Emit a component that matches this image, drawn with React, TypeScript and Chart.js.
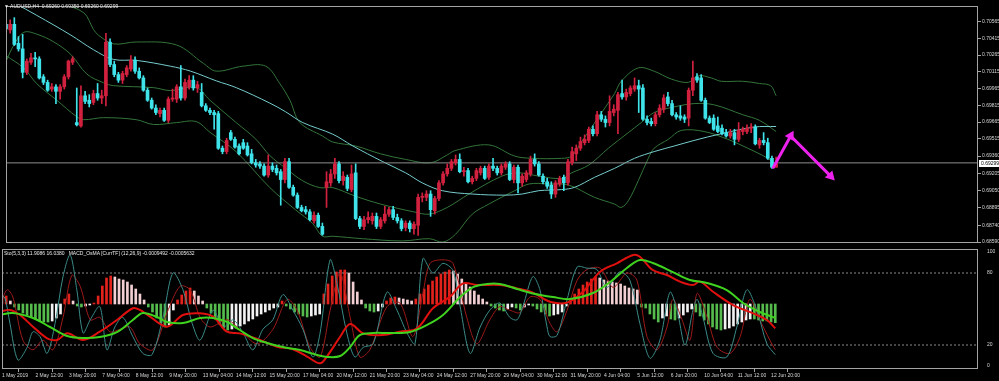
import React, { useEffect, useRef } from "react";
import { Chart, registerables } from "chart.js";
Chart.register(...registerables);

const FONT = "'Liberation Sans', Arial, sans-serif";
const X_MAX = 233.5;

const titleMain = "AUDUSD,H4  0.69260 0.69350 0.69260 0.69299";
const titleSub = "Sto(5,3,3) 11.9086 16.0380   MACD_OsMA [CurrTF] (12,26,9) -0.0009492 -0.0005632";
const lastClose = 0.69299;

const priceTicks = [0.70565, 0.70415, 0.70265, 0.70115, 0.69965, 0.69815, 0.69665, 0.69515, 0.6936, 0.69205, 0.6905, 0.68895, 0.6874, 0.6859];
const stochTicks = [0, 20, 80, 100];
const timeLabels = ["1 May 2019", "2 May 12:00", "3 May 20:00", "7 May 04:00", "8 May 12:00", "9 May 20:00", "13 May 04:00", "14 May 12:00", "15 May 20:00", "17 May 04:00", "20 May 12:00", "21 May 20:00", "23 May 04:00", "24 May 12:00", "27 May 20:00", "29 May 04:00", "30 May 12:00", "31 May 20:00", "4 Jun 04:00", "5 Jun 12:00", "6 Jun 20:00", "10 Jun 04:00", "11 Jun 12:00", "12 Jun 20:00"];
const timeTickBars = [0, 8, 16, 24, 32, 40, 48, 56, 64, 72, 80, 88, 96, 104, 112, 120, 128, 136, 144, 152, 160, 168, 176, 184];

// open, high, low, close (H4 bars, 1 May 04:00 .. 13 Jun 00:00)
const ohlc: number[][] = [
  [0.7054,0.7057,0.7048,0.7050],[0.7049,0.7058,0.7046,0.7054],[0.7054,0.7060,0.7035,0.7036],[0.7037,0.7043,0.7030,0.7032],
  [0.7032,0.7045,0.7006,0.7011],[0.7011,0.7023,0.7009,0.7021],[0.7020,0.7028,0.7018,0.7024],[0.7024,0.7029,0.7016,0.7023],
  [0.7023,0.7025,0.7005,0.7006],[0.7007,0.7009,0.7000,0.7002],[0.7002,0.7004,0.6994,0.6995],[0.6996,0.7001,0.6994,0.6998],
  [0.6998,0.7000,0.6983,0.6994],[0.6994,0.7000,0.6987,0.6998],[0.6998,0.7009,0.6996,0.7007],[0.7007,0.7022,0.7005,0.7021],
  [0.7020,0.7025,0.7018,0.7023],[0.6966,0.6997,0.6963,0.6964],[0.6963,0.6999,0.6962,0.6990],[0.6990,0.6994,0.6983,0.6985],
  [0.6986,0.6991,0.6980,0.6983],[0.6984,0.6995,0.6982,0.6992],[0.6992,0.7001,0.6986,0.6988],[0.6988,0.6995,0.6983,0.6990],
  [0.6990,0.7046,0.6981,0.7038],[0.7038,0.7041,0.7016,0.7018],[0.7018,0.7021,0.7007,0.7009],[0.7009,0.7011,0.7002,0.7004],
  [0.7004,0.7012,0.7001,0.7010],[0.7009,0.7017,0.7007,0.7015],[0.7014,0.7026,0.7012,0.7022],[0.7022,0.7025,0.7010,0.7012],
  [0.7012,0.7015,0.7005,0.7006],[0.7006,0.7008,0.6994,0.6995],[0.6995,0.6997,0.6985,0.6986],[0.6986,0.6988,0.6978,0.6979],
  [0.6979,0.6982,0.6973,0.6975],[0.6974,0.6979,0.6971,0.6977],[0.6977,0.6979,0.6967,0.6968],[0.6968,0.6989,0.6966,0.6987],
  [0.6987,0.6996,0.6985,0.6988],[0.6987,0.7000,0.6984,0.6998],[0.6998,0.7017,0.6986,0.6988],[0.6988,0.7005,0.6986,0.7002],
  [0.6998,0.7008,0.6996,0.7004],[0.7004,0.7008,0.6995,0.6997],[0.6997,0.7003,0.6993,0.7000],[0.6993,0.7001,0.6980,0.6981],
  [0.6981,0.6983,0.6976,0.6977],[0.6977,0.6979,0.6973,0.6975],[0.6975,0.6977,0.6960,0.6973],[0.6974,0.6976,0.6942,0.6943],
  [0.6943,0.6945,0.6938,0.6940],[0.6940,0.6952,0.6938,0.6950],[0.6957,0.6959,0.6950,0.6951],[0.6951,0.6953,0.6943,0.6944],
  [0.6945,0.6947,0.6937,0.6938],[0.6948,0.6951,0.6942,0.6943],[0.6945,0.6948,0.6936,0.6937],[0.6938,0.6942,0.6929,0.6930],
  [0.6930,0.6933,0.6926,0.6928],[0.6929,0.6931,0.6925,0.6927],[0.6927,0.6929,0.6918,0.6919],[0.6919,0.6937,0.6917,0.6927],
  [0.6927,0.6930,0.6922,0.6924],[0.6925,0.6928,0.6919,0.6921],[0.6922,0.6924,0.6892,0.6915],[0.6915,0.6934,0.6912,0.6931],
  [0.6931,0.6934,0.6907,0.6908],[0.6908,0.6910,0.6900,0.6901],[0.6901,0.6903,0.6889,0.6890],[0.6890,0.6892,0.6886,0.6887],
  [0.6888,0.6891,0.6884,0.6886],[0.6886,0.6888,0.6878,0.6879],[0.6878,0.6886,0.6876,0.6883],[0.6883,0.6885,0.6872,0.6873],
  [0.6873,0.6876,0.6865,0.6866],[0.6908,0.6922,0.6890,0.6913],[0.6912,0.6924,0.6909,0.6920],[0.6920,0.6934,0.6916,0.6929],
  [0.6929,0.6931,0.6912,0.6914],[0.6914,0.6922,0.6910,0.6918],[0.6917,0.6919,0.6905,0.6907],[0.6906,0.6928,0.6904,0.6920],
  [0.6921,0.6929,0.6879,0.6880],[0.6880,0.6882,0.6871,0.6873],[0.6873,0.6882,0.6870,0.6879],[0.6879,0.6886,0.6876,0.6881],
  [0.6878,0.6885,0.6875,0.6882],[0.6882,0.6885,0.6871,0.6873],[0.6873,0.6881,0.6871,0.6879],[0.6878,0.6891,0.6876,0.6884],
  [0.6884,0.6890,0.6882,0.6888],[0.6888,0.6891,0.6879,0.6881],[0.6881,0.6884,0.6876,0.6878],[0.6878,0.6880,0.6869,0.6871],
  [0.6872,0.6878,0.6869,0.6876],[0.6876,0.6878,0.6868,0.6871],[0.6871,0.6877,0.6866,0.6875],[0.6874,0.6902,0.6865,0.6899],
  [0.6899,0.6903,0.6895,0.6900],[0.6899,0.6905,0.6896,0.6902],[0.6902,0.6905,0.6882,0.6888],[0.6887,0.6900,0.6884,0.6898],
  [0.6898,0.6914,0.6896,0.6912],[0.6912,0.6922,0.6910,0.6920],[0.6920,0.6929,0.6918,0.6925],[0.6925,0.6933,0.6923,0.6931],
  [0.6930,0.6937,0.6928,0.6933],[0.6933,0.6938,0.6921,0.6922],[0.6922,0.6926,0.6918,0.6923],[0.6923,0.6925,0.6912,0.6913],
  [0.6913,0.6918,0.6911,0.6916],[0.6916,0.6925,0.6914,0.6923],[0.6921,0.6927,0.6919,0.6925],[0.6925,0.6927,0.6915,0.6916],
  [0.6917,0.6929,0.6915,0.6927],[0.6927,0.6934,0.6923,0.6925],[0.6925,0.6927,0.6919,0.6921],[0.6921,0.6929,0.6919,0.6927],
  [0.6926,0.6931,0.6924,0.6929],[0.6929,0.6931,0.6914,0.6915],[0.6915,0.6928,0.6912,0.6926],[0.6926,0.6928,0.6903,0.6912],
  [0.6912,0.6920,0.6909,0.6918],[0.6915,0.6923,0.6913,0.6921],[0.6920,0.6936,0.6918,0.6933],[0.6933,0.6938,0.6927,0.6929],
  [0.6929,0.6931,0.6918,0.6919],[0.6918,0.6920,0.6911,0.6913],[0.6913,0.6916,0.6907,0.6909],[0.6910,0.6913,0.6898,0.6902],
  [0.6902,0.6914,0.6899,0.6912],[0.6911,0.6918,0.6909,0.6916],[0.6917,0.6919,0.6905,0.6912],[0.6912,0.6933,0.6910,0.6931],
  [0.6930,0.6944,0.6928,0.6940],[0.6938,0.6946,0.6932,0.6943],[0.6943,0.6953,0.6941,0.6949],[0.6948,0.6955,0.6946,0.6951],
  [0.6950,0.6962,0.6948,0.6960],[0.6960,0.6963,0.6954,0.6956],[0.6956,0.6976,0.6954,0.6973],[0.6973,0.6976,0.6967,0.6969],
  [0.6969,0.6972,0.6962,0.6966],[0.6966,0.6990,0.6963,0.6976],[0.6975,0.6982,0.6972,0.6978],[0.6977,0.6993,0.6956,0.6991],
  [0.6992,0.7004,0.6987,0.6989],[0.6989,0.6996,0.6986,0.6993],[0.6992,0.6999,0.6990,0.6997],[0.6996,0.7006,0.6994,0.6999],
  [0.6999,0.7004,0.6975,0.6996],[0.6997,0.7000,0.6968,0.6969],[0.6969,0.6972,0.6964,0.6966],[0.6967,0.6970,0.6963,0.6965],
  [0.6965,0.6975,0.6963,0.6973],[0.6973,0.6982,0.6971,0.6979],[0.6978,0.6991,0.6975,0.6988],[0.6989,0.6993,0.6981,0.6983],
  [0.6983,0.6986,0.6972,0.6973],[0.6973,0.6975,0.6969,0.6971],[0.6972,0.6981,0.6968,0.6970],[0.6971,0.6973,0.6966,0.6969],
  [0.6970,0.6997,0.6963,0.6995],[0.6995,0.7021,0.6990,0.7006],[0.7007,0.7010,0.7002,0.7004],[0.7006,0.7009,0.6985,0.6986],
  [0.6986,0.6988,0.6969,0.6970],[0.6970,0.6972,0.6965,0.6966],[0.6970,0.6973,0.6959,0.6960],[0.6963,0.6971,0.6957,0.6958],
  [0.6961,0.6964,0.6955,0.6956],[0.6957,0.6960,0.6953,0.6954],[0.6954,0.6960,0.6952,0.6957],[0.6957,0.6960,0.6946,0.6951],
  [0.6951,0.6966,0.6949,0.6959],[0.6958,0.6962,0.6955,0.6960],[0.6958,0.6964,0.6956,0.6961],[0.6961,0.6965,0.6957,0.6962],
  [0.6962,0.6964,0.6946,0.6947],[0.6946,0.6952,0.6943,0.6950],[0.6950,0.6957,0.6946,0.6948],[0.6948,0.6952,0.6933,0.6934],
  [0.6934,0.6936,0.6925,0.6926],[0.6926,0.6935,0.6926,0.69299],
];

// Bollinger bands and moving average: [bar index, price]
const bbUpper = [[0,0.7090],[6,0.7085],[13.2,0.7073],[18.7,0.70643],[21,0.70495],[22.2,0.70443],[25.8,0.70365],[31.3,0.70382],[40.9,0.70356],[47.4,0.70191],[50.5,0.70121],[56.9,0.70165],[62.4,0.70165],[65.8,0.70008],[68.2,0.6986],[70.6,0.6966],[76.1,0.69538],[78.5,0.69486],[84,0.6945],[90,0.6938],[96,0.6933],[102,0.6930],[106,0.6937],[107.9,0.6941],[116,0.6946],[122.2,0.6936],[126.3,0.6934],[133.5,0.6934],[135.9,0.6936],[138.3,0.6949],[143.1,0.6975],[146.2,0.6992],[147.8,0.7003],[151.9,0.7015],[155.7,0.7012],[159.8,0.7005],[163.9,0.7002],[166.3,0.7008],[169.4,0.7006],[171.8,0.7003],[177,0.7003],[181,0.7001],[183.7,0.6999],[185,0.6990]];
const bbMiddle = [[0,0.70208],[1.9,0.70356],[4.3,0.70469],[7.4,0.70452],[11.5,0.70382],[15.6,0.70269],[19.4,0.70095],[23.4,0.70017],[25.8,0.69991],[35.4,0.69973],[39.5,0.69947],[45.7,0.69973],[49,0.6986],[55.3,0.6966],[60,0.69512],[63.4,0.69364],[67.2,0.69251],[71.3,0.69138],[75.4,0.69077],[78.5,0.69077],[84,0.6900],[90,0.6893],[98,0.6886],[101.7,0.6884],[106,0.6890],[111.2,0.6902],[119.1,0.6918],[123.2,0.6921],[128,0.6918],[133.5,0.6916],[135.9,0.6921],[140,0.6928],[144.7,0.6943],[149.5,0.6957],[152.6,0.6966],[155.7,0.6975],[160.5,0.6980],[165.3,0.6983],[170,0.6982],[177,0.6973],[181,0.6968],[185,0.6958]];
const bbLower = [[0,0.7026],[4.3,0.70147],[7.4,0.70008],[12.2,0.6986],[17,0.69712],[18.7,0.69686],[23.4,0.69704],[31.3,0.69686],[35.4,0.69643],[41,0.6966],[45.7,0.69669],[49,0.69573],[55.3,0.69399],[63.4,0.69077],[69.6,0.68877],[73.7,0.68755],[76,0.68642],[78.5,0.68642],[85.6,0.6862],[95.2,0.6860],[101.7,0.6862],[105,0.6859],[108,0.6866],[112,0.6884],[116,0.6893],[119,0.6899],[122.2,0.6905],[125.6,0.6911],[130.4,0.6911],[135.2,0.6910],[141.4,0.6899],[146.2,0.6893],[147.8,0.6890],[149.5,0.6896],[151.9,0.6914],[154.3,0.6934],[155.7,0.6943],[159.1,0.6951],[162.2,0.6959],[167.7,0.6958],[173.4,0.6951],[178.2,0.6943],[183,0.6934],[185,0.6928]];
const maLine = [[0,0.7075],[1.9,0.7073],[7.4,0.7062],[15.6,0.70443],[21,0.70313],[25.8,0.70226],[31.3,0.70217],[39.5,0.70165],[44.3,0.70121],[50.5,0.70034],[55.3,0.69973],[63.4,0.69834],[67.2,0.69756],[71.3,0.6966],[78.5,0.69556],[83.3,0.69451],[90.4,0.69312],[96,0.6921],[100,0.6912],[104.8,0.6905],[112,0.6902],[119.9,0.6901],[124,0.6902],[128,0.6905],[133.5,0.6906],[136.6,0.6908],[141.4,0.6917],[146.2,0.6925],[151,0.6934],[155.7,0.6940],[160.5,0.6945],[165.3,0.6950],[171.8,0.6956],[179.7,0.6962],[185,0.69625]];

// hand-drawn forecast arrows: [bar index, price]
const arrowUp = [[184.2,0.6925],[188.5,0.6954]];
const arrowDown = [[188.5,0.6954],[198.1,0.6918]];

// Stochastic (5,3,3): [bar index, value]
const stochK = [[-0.5,63],[0.7,59],[1.9,38],[3.8,7.5],[6,18],[7.4,31],[9.1,27],[10.8,13],[12.7,38],[14.6,77],[16.3,95],[17.9,66],[19.4,30],[21.1,41],[23.4,52],[25.1,16],[27,35],[28.9,43],[31.3,27],[33.7,13],[35.9,12],[38.5,43],[40.9,80],[43.3,66],[45.5,38],[47.4,24],[50.5,49],[52.9,35],[55.3,41],[57.7,30],[60,16],[62.4,33],[64.8,41],[67.2,62],[69.6,49],[72,33],[74.4,10],[76.1,30],[78.5,91],[80.1,72],[82.5,30],[84.4,10],[86.4,18],[88.8,21],[92.1,64],[94.5,49],[96.9,30],[98.8,21],[100.7,92],[103.1,80],[105.5,88],[107.9,82],[109.6,52],[112,13],[114.4,35],[116.7,49],[119.1,55],[121.5,43],[123.2,41],[124.6,52],[127,77],[128.7,66],[130.4,35],[131.1,27],[132.8,28],[135.2,58],[137.6,85],[140,84],[142.3,83],[144.7,68],[147.8,81],[150.2,74],[152.6,38],[155,9],[157.4,24],[159.8,64],[161.5,49],[163.4,20],[165.3,49],[166.3,58],[167.7,43],[170.1,13],[173.4,10],[175.8,35],[178.2,66],[180.6,49],[183,21],[185,11.9]];
const stochD = [[-0.5,52],[1.2,66],[2.6,60],[5,24],[7.4,16],[9.8,24],[12.2,16],[14.6,43],[16.7,78],[18.7,69],[21.1,41],[23.4,43],[25.8,31],[28.2,33],[30.6,35],[33,21],[36.1,16],[39.5,47],[42.6,69],[45,66],[47.4,43],[49.8,35],[53.8,41],[56.9,33],[61,21],[64.8,33],[68.2,58],[70.6,49],[73.7,18],[76.1,10],[78.5,49],[80.9,80],[83.3,43],[85.6,10],[88,16],[92.1,52],[95.2,55],[98.3,27],[100.7,63],[102.4,88],[105.5,91],[107.9,88],[111.2,43],[113.6,21],[116.7,41],[119.1,52],[121.5,49],[123.9,47],[126.3,60],[128.7,58],[131.1,38],[132.8,31],[135.2,49],[137.6,74],[140,83],[143.1,84],[146.2,68],[149.5,80],[151.9,74],[154.3,27],[156.7,16],[159.1,35],[160.5,58],[162.7,41],[164.6,24],[166.3,63],[168.7,43],[171.1,18],[174.2,13],[176.6,27],[178.9,58],[181.3,41],[183.7,24],[185,16.04]];
// MACD-type smooth lines in the lower window (0..100 window units)
const macdGreen = [[-0.5,45],[2.6,46.7],[7.4,42.5],[11.5,35],[15.6,27.5],[19.4,25.8],[23.4,26.7],[27.5,30.8],[31.3,40.8],[33.7,46.7],[37.1,43.3],[39.5,39.2],[43.3,38.3],[47.4,42.5],[50.5,42.5],[53.8,39.2],[56.9,32.5],[60,25.8],[63.4,21.7],[67.2,18.3],[71.3,15.8],[75.4,11.7],[77.8,10],[80.9,10.8],[83.3,18.3],[85.6,28.3],[88.8,30],[92.8,30],[97.6,30.8],[101.7,36.7],[105.5,45],[109.6,60],[112.7,68.3],[116,70.8],[119.1,70.8],[123.2,66.7],[127,63],[131.8,60],[135.9,58.3],[141.4,63.3],[145.5,72.5],[149.5,84.2],[152.6,90.8],[155.7,88.3],[160.5,80.8],[164.6,74.2],[168.7,71.7],[173.4,65.8],[177.3,55],[181.3,47.5],[185,42.5]];
const macdRed = [[-0.5,47.8],[1.9,49.2],[4.3,45],[7.4,35.3],[10.8,25.6],[13.2,24.2],[15.6,29.7],[19.4,24.2],[23.4,31.1],[27.5,40.8],[31.3,50.6],[33,49.2],[35.4,43.6],[39.5,35.3],[43.3,45],[47.4,46.4],[50.5,43.6],[53.8,31.1],[56.9,29.7],[61.7,24.2],[65.8,18.6],[69.6,16.4],[73,10.3],[76.1,4.7],[77.8,10.8],[80.9,26.9],[83.3,37.5],[86.4,29.7],[91.1,28.3],[95.2,31.1],[99.3,33.9],[103.1,50.6],[107.2,60.3],[110.3,71.4],[113.6,70],[119.1,70],[123.2,67.2],[127,63.6],[131.1,56.1],[135.2,55.3],[139,64.4],[143.1,81.1],[147.1,88.1],[151,95],[152.6,93.6],[155.7,82.5],[159.1,78.3],[162.2,72.8],[165.3,70],[167,72.8],[170.1,64.4],[174.9,53.3],[179.7,46.4],[183,40.8],[185,33.9]];
// OsMA histogram, one value per bar
const osma = [0.00021,0.00024,0.00009,-0.00009,-0.00018,-0.00027,-0.00033,-0.00039,-0.00045,-0.00051,-0.00054,-0.00054,-0.00051,-0.00042,-0.0003,0.00015,0.0003,0.00009,-0.00006,-0.00009,-0.00006,-0.00003,0.00003,0.00024,0.00054,0.00078,0.00084,0.00081,0.00075,0.00072,0.00066,0.00057,0.00045,0.0003,0.00012,-0.00009,-0.00024,-0.00042,-0.00057,-0.00069,-0.00063,-0.00018,0.00012,0.00027,0.00039,0.00048,0.00039,0.00024,0.00009,-0.00012,-0.00027,-0.00045,-0.0006,-0.00072,-0.00078,-0.00075,-0.00072,-0.00066,-0.0006,-0.00051,-0.00045,-0.00036,-0.0003,-0.00024,-0.00018,-0.00012,-0.00009,0.00009,-0.00006,-0.00015,-0.00024,-0.0003,-0.00036,-0.00039,-0.00036,-0.00033,-0.0003,0.0003,0.0006,0.00084,0.00096,0.00102,0.00102,0.00093,0.00066,0.00036,0.00012,-0.00012,-0.00021,-0.00024,-0.00021,-0.00009,0.00009,0.00018,0.00021,0.00018,0.00015,0.00012,0.00009,0.00015,0.0003,0.00045,0.00057,0.00069,0.00081,0.0009,0.00096,0.00102,0.00099,0.0009,0.00075,0.00063,0.00051,0.00039,0.00027,0.00015,0.00006,-0.00006,-0.00012,-0.00018,-0.00021,-0.00015,-0.00009,-0.00012,-0.00018,-0.00009,-0.00003,-0.00006,-0.00015,-0.00024,-0.0003,-0.00036,-0.00033,-0.0003,-0.00024,-0.00006,0.00015,0.0003,0.00045,0.00057,0.00066,0.00075,0.00081,0.00078,0.00072,0.00069,0.00066,0.00063,0.0006,0.00054,0.00048,0.00045,0.00042,-0.00009,-0.00012,-0.0003,-0.00045,-0.00054,-0.00042,-0.00036,-0.00045,-0.00048,-0.00042,-0.00033,-0.00024,-0.00015,-0.00024,-0.00036,-0.00048,-0.0006,-0.00069,-0.00075,-0.00078,-0.00075,-0.00072,-0.00066,-0.0006,-0.00054,-0.00048,-0.00045,-0.00045,-0.00048,-0.00051,-0.00051,-0.00054,-0.00056];

const UP = "#d2213f";
const DOWN = "#3fe3ea";
const BAND = "#33743a";
const xy = (pts: number[][]) => pts.map(([x, y]) => ({ x, y }));

const frame = {
  id: "frame",
  afterDraw(chart: any) {
    const { ctx, chartArea: a } = chart;
    ctx.save();
    ctx.strokeStyle = "#a4a4a4";
    ctx.lineWidth = 1;
    ctx.strokeRect(Math.round(a.left) + 0.5, Math.round(a.top) + 0.5, Math.round(a.right - a.left) - 1, Math.round(a.bottom - a.top) - 1);
    ctx.restore();
  },
};

const priceTag = {
  id: "priceTag",
  afterDraw(chart: any) {
    const { ctx, chartArea: a } = chart;
    const y = Math.round(chart.scales.y.getPixelForValue(lastClose));
    ctx.save();
    ctx.fillStyle = "#ffffff";
    ctx.fillRect(a.right + 1, y - 3, 21, 7);
    ctx.fillStyle = "#000000";
    ctx.font = `5px ${FONT}`;
    ctx.textBaseline = "middle";
    ctx.fillText(lastClose.toFixed(5), a.right + 3, y + 0.5);
    ctx.restore();
  },
};

const lineDs = (label: string, pts: number[][], color: string, width: number, order: number, extra: any = {}) => ({
  type: "line",
  label,
  data: xy(pts),
  borderColor: color,
  borderWidth: width,
  pointRadius: 0,
  tension: 0.35,
  order,
  ...extra,
});

export default function App() {
  const topRef = useRef<HTMLCanvasElement>(null);
  const botRef = useRef<HTMLCanvasElement>(null);

  useEffect(() => {
    document.body.style.margin = "0";
    document.body.style.background = "#000";
    const candleColors = ohlc.map((c) => (c[3] >= c[0] ? UP : DOWN));

    const top = new Chart(topRef.current as HTMLCanvasElement, {
      type: "bar",
      data: {
        datasets: [
          lineDs("arrow up", arrowUp, "#ee22ee", 3, 0, { tension: 0, pointRadius: [0, 6], pointStyle: "triangle", pointRotation: 29, pointBackgroundColor: "#ee22ee", pointBorderWidth: 0 }),
          lineDs("arrow down", arrowDown, "#ee22ee", 3, 0, { tension: 0, pointRadius: [0, 6], pointStyle: "triangle", pointRotation: 136, pointBackgroundColor: "#ee22ee", pointBorderWidth: 0 }),
          {
            type: "bar",
            label: "body",
            data: ohlc.map((c, i) => ({ x: i, y: [c[0], c[3]] })),
            backgroundColor: candleColors,
            barThickness: 3,
            minBarLength: 1,
            grouped: false,
            order: 1,
          },
          {
            type: "bar",
            label: "wick",
            data: ohlc.map((c, i) => ({ x: i, y: [c[2], c[1]] })),
            backgroundColor: candleColors,
            barThickness: 1,
            grouped: false,
            order: 2,
          },
          lineDs("last price", [[0, lastClose], [X_MAX, lastClose]], "#8e8e8e", 1, 3, { tension: 0 }),
          lineDs("MA", maLine, "#76cccc", 1, 4),
          lineDs("BB upper", bbUpper, BAND, 1, 5),
          lineDs("BB middle", bbMiddle, BAND, 1, 5),
          lineDs("BB lower", bbLower, BAND, 1, 5),
        ] as any,
      },
      options: {
        responsive: false,
        animation: false,
        events: [],
        layout: { padding: { left: 2, top: 3, right: 0, bottom: 2 } },
        plugins: { legend: { display: false }, tooltip: { enabled: false } },
        scales: {
          x: { type: "linear", display: false, min: 0, max: X_MAX, offset: false },
          y: {
            type: "linear",
            position: "right",
            min: 0.685814,
            max: 0.707042,
            afterFit: (s: any) => { s.width = 21; s.paddingTop = 0; s.paddingBottom = 0; },
            afterBuildTicks: (s: any) => { s.ticks = priceTicks.map((v) => ({ value: v })); },
            ticks: { autoSkip: false, color: "#d8d8d8", padding: 1, font: { size: 5, family: FONT }, callback: (v: any) => Number(v).toFixed(5) },
            grid: { drawOnChartArea: false, color: "#a4a4a4", tickLength: 3 },
            border: { display: false },
          },
        },
      } as any,
      plugins: [frame, priceTag],
    });

    const osmaColor = (ctx: any) => {
      const i = ctx.dataIndex;
      const v = osma[i];
      const p = i > 0 ? osma[i - 1] : v;
      if (v >= 0) return v >= p ? "#e3221c" : "#f2cfd2";
      return v <= p ? "#55bb4d" : "#f2f2f2";
    };

    const bottom = new Chart(botRef.current as HTMLCanvasElement, {
      type: "bar",
      data: {
        datasets: [
          lineDs("MACD green", macdGreen, "#3fd21e", 2, 0),
          lineDs("MACD red", macdRed, "#e0100e", 2, 1),
          lineDs("Stoch %K", stochK, "#3a8c88", 1, 2, { tension: 0.3 }),
          lineDs("Stoch %D", stochD, "#9e1a1a", 1, 3, { tension: 0.3 }),
          lineDs("level 80", [[0, 80], [X_MAX, 80]], "#8a8a8a", 1, 4, { tension: 0, borderDash: [2, 2] }),
          lineDs("level 20", [[0, 20], [X_MAX, 20]], "#8a8a8a", 1, 4, { tension: 0, borderDash: [2, 2] }),
          {
            type: "bar",
            label: "OsMA",
            yAxisID: "yo",
            data: osma.map((v, i) => ({ x: i, y: v })),
            backgroundColor: osmaColor,
            barThickness: 2,
            grouped: false,
            order: 5,
          },
        ] as any,
      },
      options: {
        responsive: false,
        animation: false,
        events: [],
        layout: { padding: { left: 2, top: 9, right: 0, bottom: 0 } },
        plugins: { legend: { display: false }, tooltip: { enabled: false } },
        scales: {
          x: {
            type: "linear",
            min: 0,
            max: X_MAX,
            offset: false,
            afterFit: (s: any) => { s.height = 12; s.paddingLeft = 0; s.paddingRight = 0; },
            afterBuildTicks: (s: any) => { s.ticks = timeTickBars.map((v) => ({ value: v })); },
            ticks: {
              autoSkip: false, maxRotation: 0, minRotation: 0, align: "start", padding: 1,
              color: "#d8d8d8", font: { size: 5, family: FONT },
              callback: (_v: any, idx: number) => timeLabels[idx],
            },
            grid: { drawOnChartArea: false, color: "#a4a4a4", tickLength: 3 },
            border: { display: false },
          },
          y: {
            type: "linear",
            position: "right",
            min: 0,
            max: 100,
            afterFit: (s: any) => { s.width = 21; s.paddingTop = 0; s.paddingBottom = 0; },
            // MT4 keeps the 0 and 100 captions inside the window
            afterBuildTicks: (s: any) => { s.ticks = stochTicks.map((v) => ({ value: v === 0 ? 2.5 : v === 100 ? 97.5 : v })); },
            ticks: { autoSkip: false, color: "#d8d8d8", padding: 1, font: { size: 5, family: FONT }, callback: (_v: any, idx: number) => String(stochTicks[idx]) },
            grid: { display: false },
            border: { display: false },
          },
          yo: { type: "linear", display: false, min: -0.00195, max: 0.00165 },
        },
      } as any,
      plugins: [frame],
    });

    return () => {
      top.destroy();
      bottom.destroy();
    };
  }, []);

  const textStyle: React.CSSProperties = {
    position: "absolute",
    color: "#e8e8e8",
    fontFamily: FONT,
    fontSize: "5px",
    lineHeight: "6px",
    whiteSpace: "pre",
    zIndex: 2,
  };

  return (
    <div style={{ position: "absolute", left: 0, top: 0, width: 999, height: 381, background: "#000", overflow: "hidden" }}>
      <canvas ref={topRef} width={999} height={249} style={{ position: "absolute", left: 0, top: 0, width: 999, height: 249 }} />
      <canvas ref={botRef} width={999} height={141} style={{ position: "absolute", left: 0, top: 240, width: 999, height: 141 }} />
      <div style={{ ...textStyle, left: 4, top: 3 }}>{"\u25BC " + titleMain}</div>
      <div style={{ ...textStyle, left: 4, top: 250 }}>{titleSub}</div>
    </div>
  );
}
